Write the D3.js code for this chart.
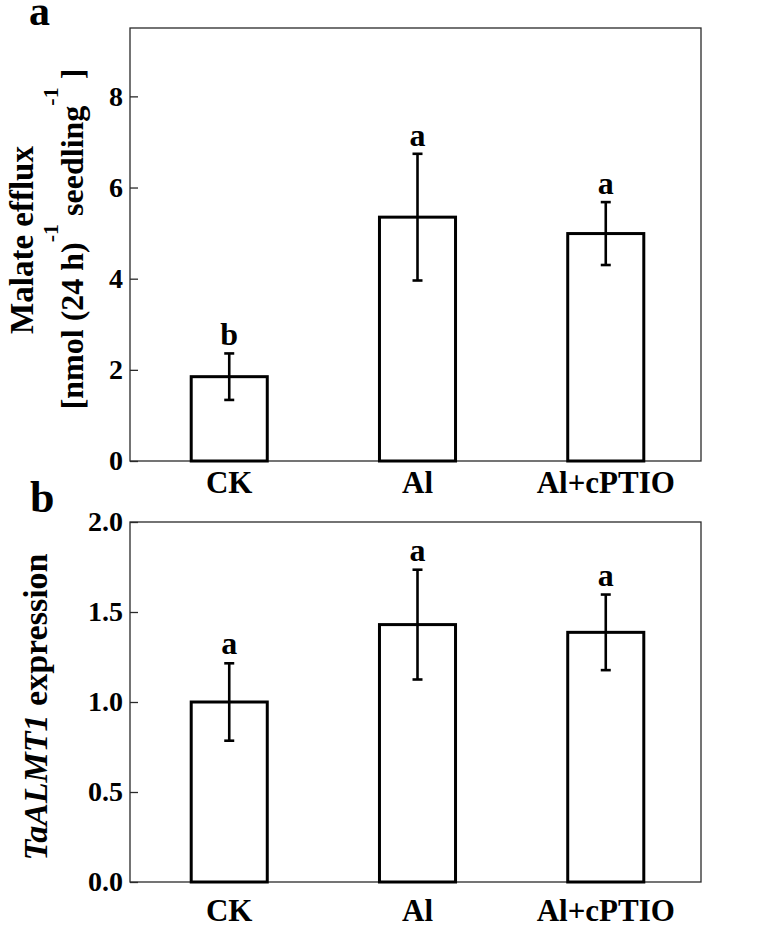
<!DOCTYPE html>
<html>
<head>
<meta charset="utf-8">
<script src="https://cdn.jsdelivr.net/npm/d3@7"></script>
<style>
  html, body { margin: 0; padding: 0; background: #fff; }
  svg { display: block; }
  text { font-family: "Liberation Serif", "Times New Roman", serif; font-weight: bold; fill: #000; }
</style>
</head>
<body>
<svg id="chart" width="760" height="931"></svg>
<script>
// ---------- data ----------
const categories = ["CK", "Al", "Al+cPTIO"];

const malateMean = [1.85, 5.35, 4.99];
const malateErr = [0.51, 1.39, 0.69];
const malateLetters = ["b", "a", "a"];
const malateTicks = [0, 2, 4, 6, 8];

const exprMean = [1.0, 1.43, 1.387];
const exprErr = [0.215, 0.305, 0.21];
const exprLetters = ["a", "a", "a"];
const exprTicks = [0.0, 0.5, 1.0, 1.5, 2.0];

// ---------- drawing ----------
const svg = d3.select("#chart");
const FONT = "'Liberation Serif', 'Times New Roman', serif";

function panel(opts) {
  const { top, bottom, left, right, domainMax, ticks, tickFmt, means, errs, letters, labelGap, letterGap } = opts;
  const g = svg.append("g");

  const x = d3.scaleBand().domain(categories).range([left + 2, right + 2])
    .paddingInner(0.596).paddingOuter(0.3145);
  const y = d3.scaleLinear().domain([0, domainMax]).range([bottom, top]);

  // frame
  g.append("rect")
    .attr("x", left).attr("y", top)
    .attr("width", right - left).attr("height", bottom - top)
    .attr("fill", "none").attr("stroke", "#2a2a2a").attr("stroke-width", 1.3);

  // y axis (inward ticks)
  const ya = g.append("g").attr("transform", `translate(${left},0)`)
    .call(d3.axisLeft(y).tickValues(ticks).tickFormat(tickFmt)
      .tickSizeInner(-8).tickSizeOuter(0).tickPadding(7));
  ya.select(".domain").remove();
  ya.selectAll(".tick line").attr("stroke", "#2a2a2a").attr("stroke-width", 1.3);
  ya.selectAll(".tick text")
    .style("font-family", FONT)
    .style("font-weight", "bold").style("font-size", "28px").attr("fill", "#000");

  // x axis labels
  const xa = g.append("g").attr("transform", `translate(0,${bottom})`)
    .call(d3.axisBottom(x).tickSize(0).tickPadding(labelGap));
  xa.select(".domain").remove();
  xa.selectAll(".tick text")
    .style("font-family", FONT)
    .style("font-weight", "bold").style("font-size", "31px").attr("fill", "#000");

  // bars
  g.selectAll("rect.bar").data(categories).join("rect")
    .attr("class", "bar")
    .attr("x", d => x(d))
    .attr("y", (d, i) => y(means[i]))
    .attr("width", x.bandwidth())
    .attr("height", (d, i) => y(0) - y(means[i]))
    .attr("fill", "#fff").attr("stroke", "#000").attr("stroke-width", 3);

  // error bars
  const cx = d => x(d) + x.bandwidth() / 2;
  const eb = g.selectAll("g.err").data(categories).join("g").attr("class", "err");
  eb.append("line")
    .attr("x1", cx).attr("x2", cx)
    .attr("y1", (d, i) => y(means[i] + errs[i]))
    .attr("y2", (d, i) => y(means[i] - errs[i]))
    .attr("stroke", "#000").attr("stroke-width", 2.6);
  [1, -1].forEach(s => {
    eb.append("line")
      .attr("x1", d => cx(d) - 5).attr("x2", d => cx(d) + 5)
      .attr("y1", (d, i) => y(means[i] + s * errs[i]))
      .attr("y2", (d, i) => y(means[i] + s * errs[i]))
      .attr("stroke", "#000").attr("stroke-width", 2.6);
  });

  // significance letters
  g.selectAll("text.sig").data(categories).join("text")
    .attr("class", "sig")
    .attr("x", cx)
    .attr("y", (d, i) => y(means[i] + errs[i]) - letterGap)
    .attr("text-anchor", "middle")
    .style("font-size", "32px")
    .text((d, i) => letters[i]);

  return { x, y };
}

panel({
  top: 28, bottom: 461, left: 130, right: 701, domainMax: 9.5,
  ticks: malateTicks, tickFmt: d3.format("d"),
  means: malateMean, errs: malateErr, letters: malateLetters,
  labelGap: 10, letterGap: 8
});

panel({
  top: 522, bottom: 882, left: 130, right: 701, domainMax: 2,
  ticks: exprTicks, tickFmt: d3.format(".1f"),
  means: exprMean, errs: exprErr, letters: exprLetters,
  labelGap: 17, letterGap: 9
});

// panel letters
svg.append("text").attr("x", 29).attr("y", 25).style("font-size", "42px").text("a");
svg.append("text").attr("x", 30).attr("y", 512).style("font-size", "44px").text("b");

// y title panel a
const ta = svg.append("g").attr("transform", "translate(33,240) rotate(-90)");
ta.append("text").attr("text-anchor", "middle").style("font-size", "33px").text("Malate efflux");
const ta2 = svg.append("g").attr("transform", "translate(83,239) rotate(-90)")
  .append("text").attr("text-anchor", "middle").style("font-size", "32px");
ta2.append("tspan").text("[nmol (24 h)");
ta2.append("tspan").attr("dy", -25).style("font-size", "22px").text("-1");
ta2.append("tspan").attr("dy", 25).text(" seedling");
ta2.append("tspan").attr("dy", -25).style("font-size", "22px").text("-1");
ta2.append("tspan").attr("dy", 25).text(" ]");

// y title panel b
const tb = svg.append("g").attr("transform", "translate(47,707) rotate(-90)")
  .append("text").attr("text-anchor", "middle").style("font-size", "34px");
tb.append("tspan").style("font-style", "italic").text("TaALMT1");
tb.append("tspan").text(" expression");
</script>
</body>
</html>
